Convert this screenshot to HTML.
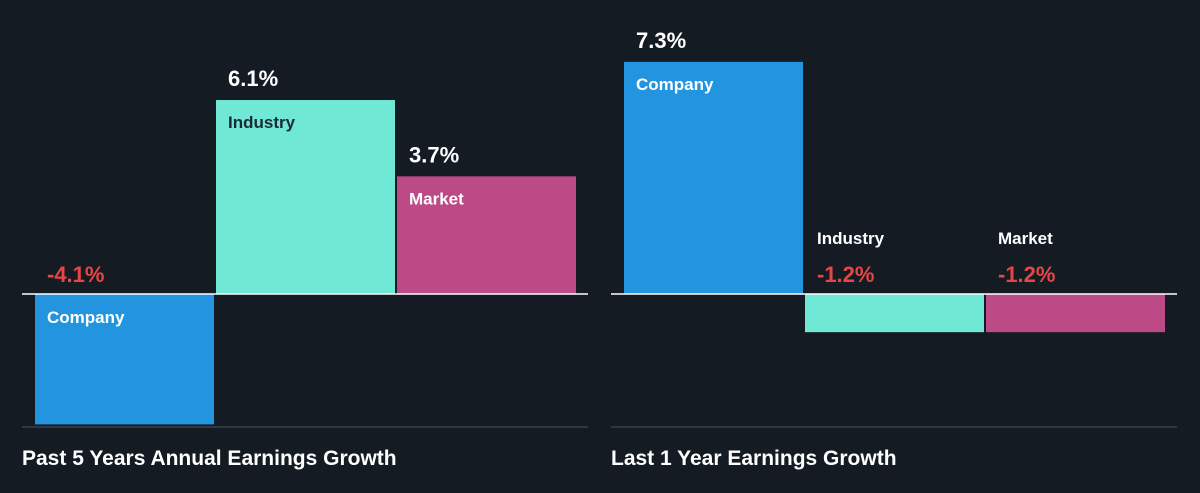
<!DOCTYPE html>
<html><head><meta charset="utf-8"><style>
body{margin:0;background:#151b23;width:1200px;height:488px;overflow:hidden;font-family:"Liberation Sans",sans-serif}
svg text{font-family:"Liberation Sans",sans-serif;font-weight:bold}
</style></head><body>
<svg id="c" width="1200" height="488"></svg>
<script>
const panelTitles=["Past 5 Years Annual Earnings Growth","Last 1 Year Earnings Growth"];
const categories=["Company","Industry","Market"];
const pastFiveYears=[-4.1,6.1,3.7];
const lastOneYear=[7.3,-1.2,-1.2];
const valueLabels=[["-4.1%","6.1%","3.7%"],["7.3%","-1.2%","-1.2%"]];
const series=[pastFiveYears,lastOneYear];
const colors=["#2394e0","#6fe8d5","#bc4a87"];
const svg=document.getElementById('c');const NS="http://www.w3.org/2000/svg";
const baseY=294,scale=31.8;
const y=v=>baseY-v*scale;
function mk(t,a,txt){const e=document.createElementNS(NS,t);for(const k in a)e.setAttribute(k,a[k]);if(txt!==undefined)e.textContent=txt;svg.appendChild(e);return e;}
const panelX=[22,611];
series.forEach((vals,p)=>{
  const x0=panelX[p];
  const g=mk('line',{x1:x0,x2:x0+566,y1:427,y2:427,stroke:'#3a414b','stroke-width':1.5});
  
  
  vals.forEach((v,i)=>{
    const bx=x0+13+i*181,w=179;
    const top=Math.min(y(v),baseY),h=Math.abs(y(v)-baseY);
    const r=mk('rect',{x:bx,y:top,width:w,height:h,fill:colors[i]});
    
    
    const neg=v<0;
    const valY=neg?baseY-12:top-14;
    const t=mk('text',{x:bx+12,y:valY,'font-size':22,fill:neg?'#e64646':'#ffffff'},valueLabels[p][i]);
    
    
    let ny,nc;
    if(h>60){ny=neg?baseY+29:top+28;nc=(i==1)?'#1c2a33':'#ffffff';}
    else{ny=baseY-50;nc='#ffffff';}
    const n=mk('text',{x:bx+12,y:ny,'font-size':17,fill:nc},categories[i]);
    
    
  });
  const bl=mk('line',{x1:x0,x2:x0+566,y1:baseY,y2:baseY,stroke:'#ffffff','stroke-width':1.5});
  
  
  const tt=mk('text',{x:x0,y:465,'font-size':21,fill:'#ffffff'},panelTitles[p]);
  
  
});
</script>
</body></html>
